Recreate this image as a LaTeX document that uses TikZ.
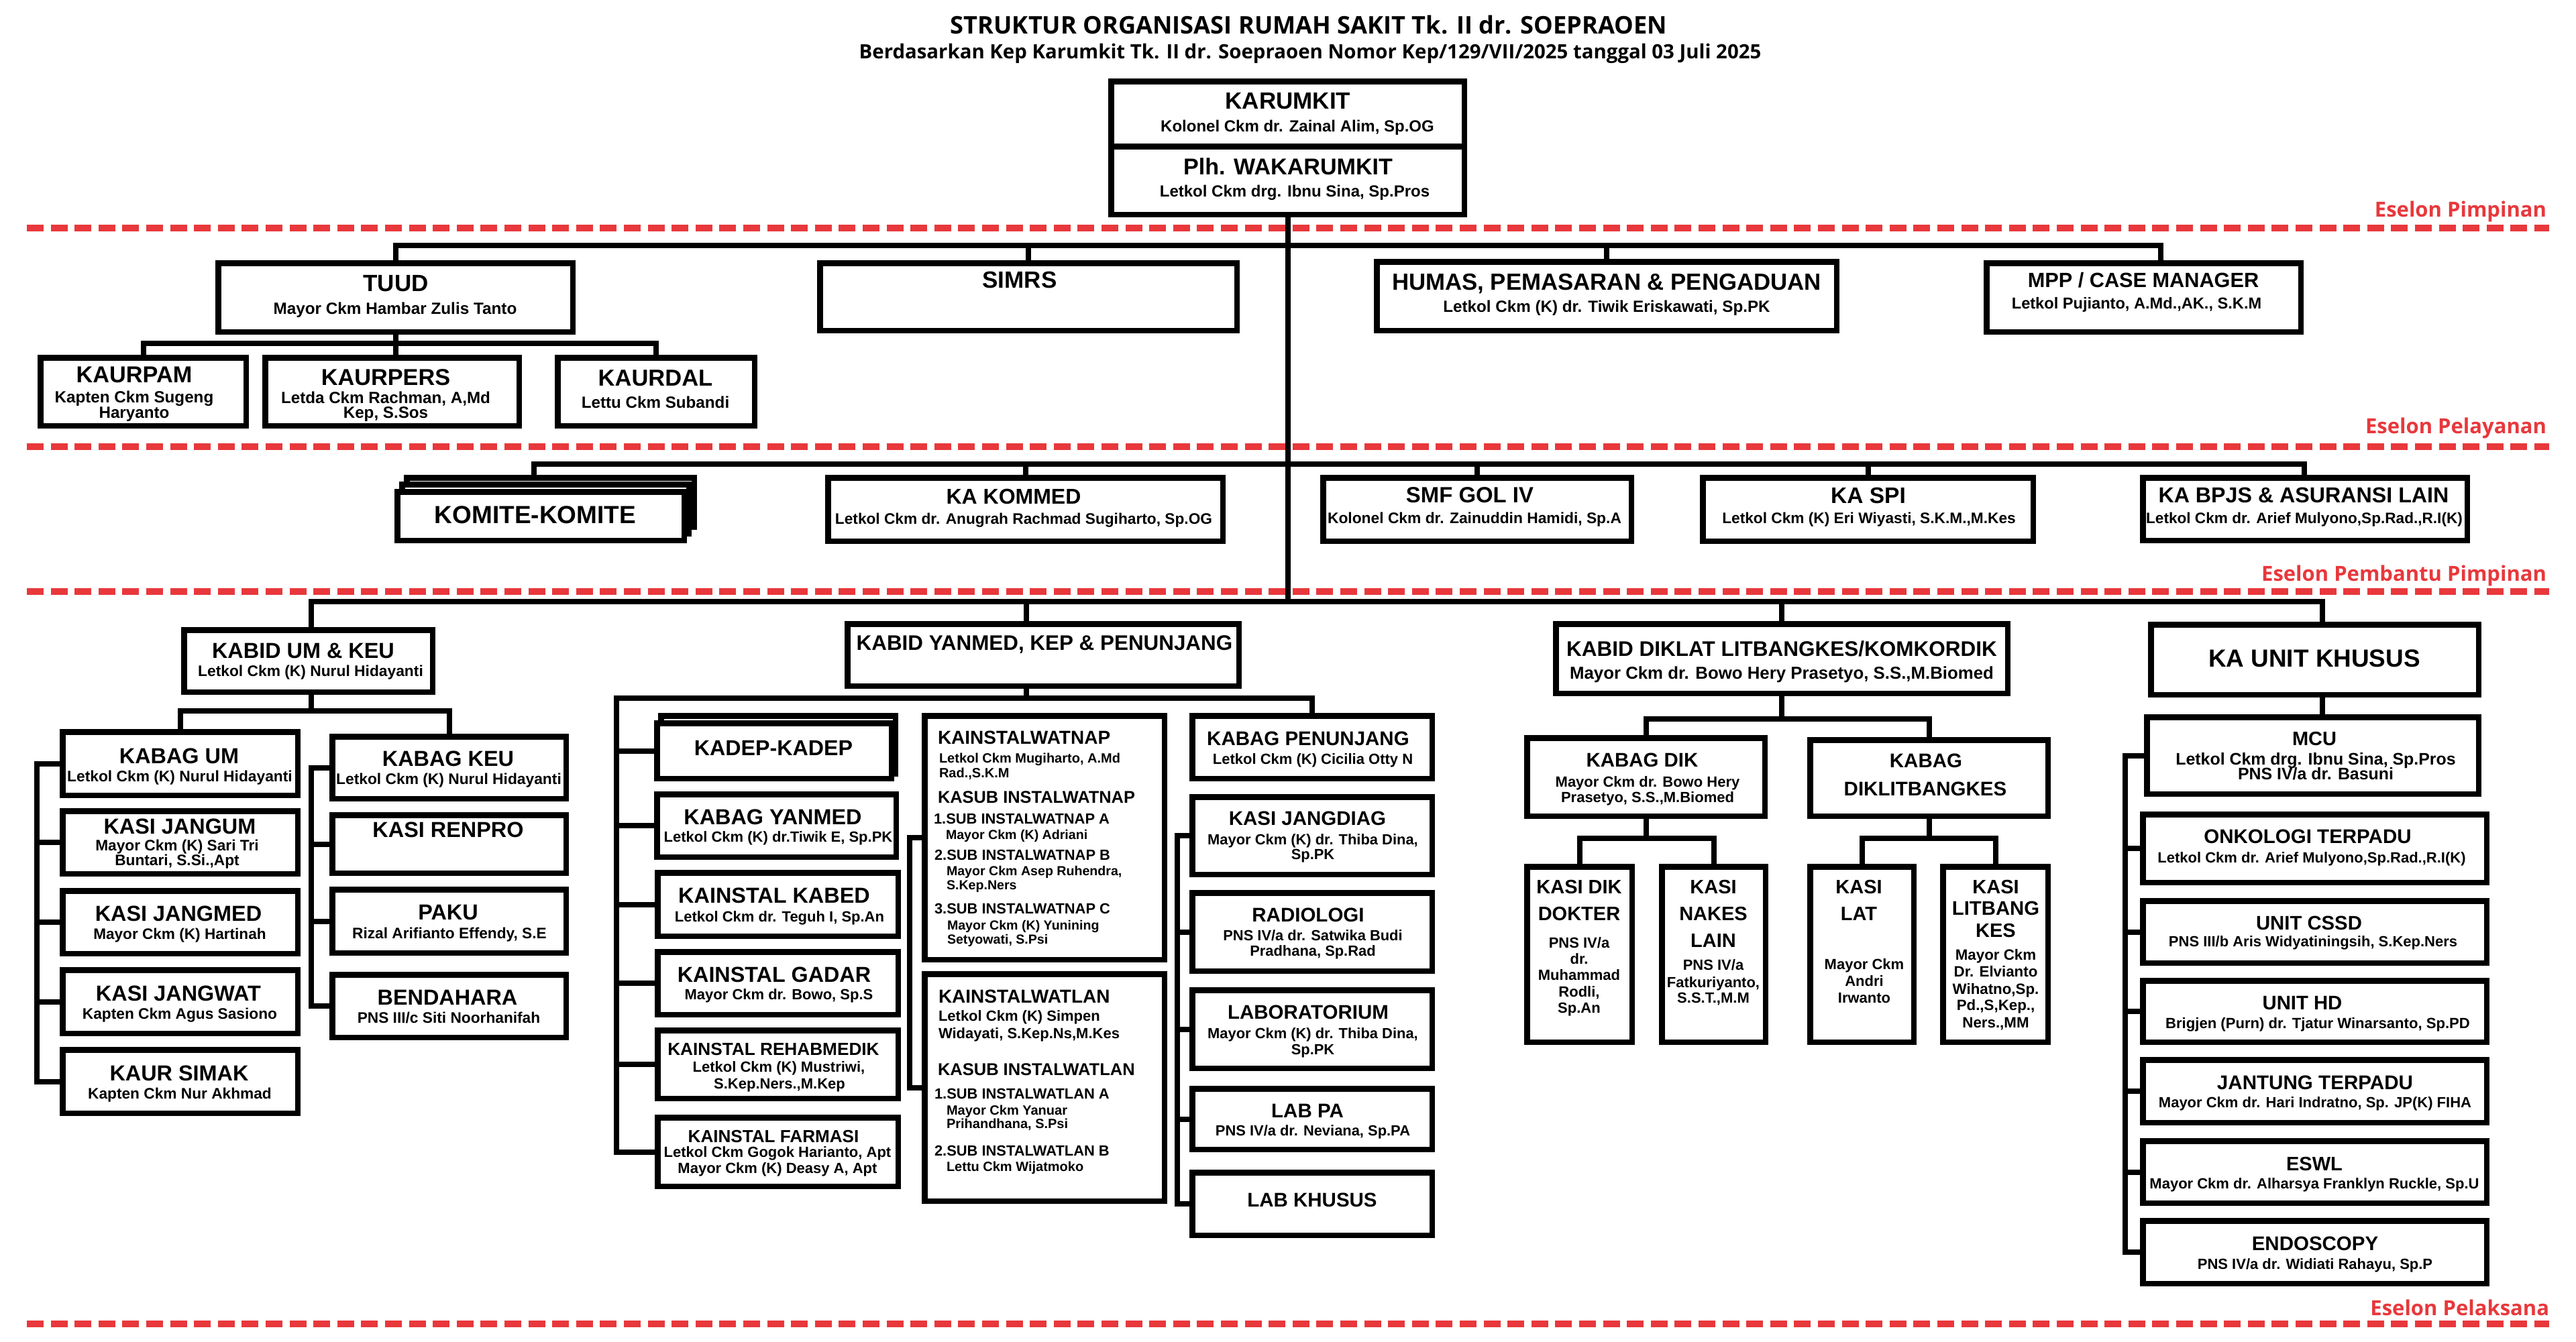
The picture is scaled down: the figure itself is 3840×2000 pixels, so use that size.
\documentclass[tikz,border=0pt]{standalone}
\usepackage{fontspec}
\setmainfont{Liberation Sans}
\newfontfamily\osans{Open Sans}
\definecolor{esred}{RGB}{232,56,60}
\newcounter{tx}
\newcommand\fz[1]{\fontsize{\fpeval{#1*0.28453}pt}{\fpeval{#1*0.34}pt}\selectfont\bfseries}
\newcommand\Tx[4]{\stepcounter{tx}\node[lbl,font=\fz{#1},text height={#1*0.0716mm}] (tx\arabic{tx}) at (#2,#3) {#4};}
\newcommand\Tl[4]{\stepcounter{tx}\node[lbl,anchor=west,font=\fz{#1},text height={#1*0.0716mm}] (tx\arabic{tx}) at (#2,#3) {#4};}
\newcommand\Bx[5]{\node[box,minimum width={(#4-#2-8.5)*0.1mm},minimum height={(#5-#3-8.5)*0.1mm}] (#1) at ({(#2+#4)/2},{(#3+#5)/2}) {};}
\begin{document}
\begin{tikzpicture}[x=0.1mm,y=-0.1mm,
  box/.style={draw=black,line width=0.85mm,fill=white,inner sep=0pt,outer sep=0pt},
  cn/.style={draw=black,line width=0.8mm,line join=miter,line cap=rect},
  lbl/.style={inner sep=0pt,outer sep=0pt,text depth=0pt,anchor=center},
  esl/.style={draw=esred,line width=1mm,dash pattern=on 2.5mm off 1.06mm},
  eslab/.style={font=\osans\bfseries\fontsize{8.82pt}{10pt}\selectfont,text=esred,anchor=east,inner sep=0pt,outer sep=0pt,text height=2.21mm,text depth=0pt}]
\fill[white] (0,0) rectangle (3840,2000);
\useasboundingbox (0,0) rectangle (3840,2000);

% title
\node[lbl,font=\osans\bfseries\fontsize{10.3pt}{12pt}\selectfont,text height=2.6mm] (title) at (1951,37) {STRUKTUR ORGANISASI RUMAH SAKIT Tk. II dr. SOEPRAOEN};
\node[lbl,font=\osans\bfseries\fontsize{8.36pt}{10pt}\selectfont,text height=2.1mm] (subtitle) at (1953,77) {Berdasarkan Kep Karumkit Tk. II dr. Soepraoen Nomor Kep/129/VII/2025 tanggal 03 Juli 2025};

% eselon lines
\draw[esl] (40,340) -- (3800,340);
\draw[esl] (40,666) -- (3800,666);
\draw[esl] (40,882) -- (3800,882);
\draw[esl] (40,1974) -- (3800,1974);
\node[eslab] (e1) at (3796,312) {Eselon Pimpinan};
\node[eslab] (e2) at (3796,635) {Eselon Pelayanan};
\node[eslab] (e3) at (3796,855) {Eselon Pembantu Pimpinan};
\node[eslab] (e4) at (3800,1950) {Eselon Pelaksana};

% boxes
\Bx{karumkit}{1652}{117}{2187}{223}
\Bx{waka}{1652}{214}{2187}{324}
\Bx{tuud}{321}{388}{858}{499}
\Bx{kaurpam}{56}{529}{371}{639}
\Bx{kaurpers}{391}{529}{778}{639}
\Bx{kaurdal}{827}{529}{1129}{639}
\Bx{simrs}{1218}{388}{1848}{497}
\Bx{humas}{2048}{386}{2742}{497}
\Bx{mpp}{2957}{388}{3434}{499}
\Bx{komB}{602}{708}{1039}{790}
\Bx{komM}{595}{718}{1031}{800}
\Bx{komF}{588}{729}{1024}{810}
\Bx{kommed}{1230}{708}{1827}{811}
\Bx{smf}{1968}{708}{2436}{811}
\Bx{spi}{2534}{708}{3035}{811}
\Bx{bpjs}{3190}{708}{3682}{810}
\Bx{kabidum}{270}{935}{649}{1036}
\Bx{kabagum}{89}{1087}{448}{1190}
\Bx{jangum}{89}{1205}{448}{1307}
\Bx{jangmed}{89}{1324}{448}{1426}
\Bx{jangwat}{89}{1442}{448}{1545}
\Bx{simak}{89}{1561}{448}{1664}
\Bx{kabagkeu}{491}{1094}{848}{1195}
\Bx{renpro}{491}{1211}{848}{1306}
\Bx{paku}{491}{1322}{848}{1425}
\Bx{bendahara}{491}{1449}{848}{1551}
\Bx{kabidyan}{1259}{926}{1851}{1027}
\Bx{kadepB}{981}{1063}{1339}{1158}
\Bx{kadepF}{975}{1074}{1333}{1165}
\Bx{kabagyan}{975}{1180}{1340}{1282}
\Bx{kabed}{976}{1297}{1343}{1400}
\Bx{gadar}{976}{1415}{1343}{1517}
\Bx{rehab}{976}{1532}{1343}{1642}
\Bx{farmasi}{976}{1662}{1343}{1773}
\Bx{watnap}{1374}{1063}{1740}{1435}
\Bx{watlan}{1374}{1448}{1740}{1795}
\Bx{penunjang}{1773}{1063}{2139}{1165}
\Bx{jangdiag}{1773}{1184}{2139}{1308}
\Bx{radiologi}{1773}{1327}{2139}{1452}
\Bx{lab}{1773}{1472}{2139}{1597}
\Bx{labpa}{1773}{1619}{2139}{1718}
\Bx{labkhusus}{1773}{1744}{2139}{1846}
\Bx{kabiddik}{2315}{926}{2997}{1038}
\Bx{kabagdik}{2272}{1096}{2635}{1221}
\Bx{kabaglit}{2694}{1099}{3057}{1221}
\Bx{kasidik}{2272}{1288}{2437}{1558}
\Bx{nakes}{2473}{1288}{2636}{1558}
\Bx{lat}{2694}{1288}{2857}{1558}
\Bx{litbang}{2892}{1288}{3057}{1558}
\Bx{kaunit}{3202}{927}{3699}{1040}
\Bx{mcu}{3196}{1065}{3699}{1188}
\Bx{onko}{3190}{1210}{3711}{1320}
\Bx{cssd}{3190}{1339}{3711}{1440}
\Bx{hd}{3190}{1458}{3711}{1558}
\Bx{jantung}{3190}{1576}{3711}{1678}
\Bx{eswl}{3190}{1697}{3711}{1798}
\Bx{endo}{3190}{1816}{3711}{1918}

% connector coordinates
\coordinate (m2) at (3221,366);
\coordinate (m3l) at (796,692);
\coordinate (m3r) at (3435,692);
\coordinate (m4l) at (464,897);
\coordinate (m4r) at (3462,897);
\coordinate (yv) at (1530,897);
\coordinate (tb) at (0,512);
\coordinate (ub) at (0,1060);
\coordinate (sl) at (55,0);
\coordinate (sr) at (464,0);
\coordinate (yb) at (0,1041);
\coordinate (ysl) at (919,0);
\coordinate (wx) at (1356,0);
\coordinate (px) at (1755,0);
\coordinate (db) at (0,1072);
\coordinate (db2) at (0,1250);
\coordinate (ux) at (3168,0);

% main trunk and bars
\draw[cn] (waka.south) -- (waka.south |- m4l);
\draw[cn] (tuud.north) |- (m2) -- (mpp.north -| m2);
\draw[cn] (simrs.north) -- (simrs.north |- m2);
\draw[cn] (humas.north) -- (humas.north |- m2);
\draw[cn] (komB.north -| m3l) -- (m3l) -- (m3r) -- (bpjs.north -| m3r);
\draw[cn] (kommed.north) -- (kommed.north |- m3l);
\draw[cn] (smf.north) -- (smf.north |- m3l);
\draw[cn] (spi.north) -- (spi.north |- m3l);
\draw[cn] (kabidum.north -| m4l) -- (m4l) -- (m4r) -- (kaunit.north -| m4r);
\draw[cn] (yv) -- (kabidyan.north -| yv);
\draw[cn] (kabiddik.north) -- (kabiddik.north |- m4l);

% TUUD
\draw[cn] (kaurpam.north) -- (kaurpam.north |- tb) -- (kaurdal.north |- tb) -- (kaurdal.north);
\draw[cn] (tuud.south) -- (tuud.south |- kaurpers.north);

% KABID UM
\draw[cn] (kabidum.south -| m4l) -- (m4l |- ub);
\draw[cn] (kabagum.north) -- (kabagum.north |- ub) -- (kabagkeu.north |- ub) -- (kabagkeu.north);
\draw[cn] (kabagum.west) -- (kabagum.west -| sl) -- (simak.west -| sl) -- (simak.west);
\draw[cn] (jangum.west) -- (jangum.west -| sl);
\draw[cn] (jangmed.west) -- (jangmed.west -| sl);
\draw[cn] (jangwat.west) -- (jangwat.west -| sl);
\draw[cn] (kabagkeu.west) -- (kabagkeu.west -| sr) -- (bendahara.west -| sr) -- (bendahara.west);
\draw[cn] (renpro.west) -- (renpro.west -| sr);
\draw[cn] (paku.west) -- (paku.west -| sr);

% YANMED
\draw[cn] (kabidyan.south -| yv) -- (yv |- yb);
\draw[cn] (farmasi.west) -- (farmasi.west -| ysl) -- (ysl |- yb) -- (penunjang.north |- yb) -- (penunjang.north);
\draw[cn] (kadepF.west) -- (kadepF.west -| ysl);
\draw[cn] (kabagyan.west) -- (kabagyan.west -| ysl);
\draw[cn] (kabed.west) -- (kabed.west -| ysl);
\draw[cn] (gadar.west) -- (gadar.west -| ysl);
\draw[cn] (rehab.west) -- (rehab.west -| ysl);
\draw[cn] (watnap.west) -- (watnap.west -| wx) -- (watlan.west -| wx) -- (watlan.west);
\draw[cn] (jangdiag.west) -- (jangdiag.west -| px) -- (labkhusus.west -| px) -- (labkhusus.west);
\draw[cn] (radiologi.west) -- (radiologi.west -| px);
\draw[cn] (lab.west) -- (lab.west -| px);
\draw[cn] (labpa.west) -- (labpa.west -| px);

% DIKLAT
\draw[cn] (kabiddik.south) -- (kabiddik.south |- db);
\draw[cn] (kabagdik.north) -- (kabagdik.north |- db) -- (kabaglit.north |- db) -- (kabaglit.north);
\draw[cn] (kabagdik.south) -- (kabagdik.south |- db2);
\draw[cn] (kasidik.north) -- (kasidik.north |- db2) -- (nakes.north |- db2) -- (nakes.north);
\draw[cn] (kabaglit.south) -- (kabaglit.south |- db2);
\draw[cn] (lat.north) -- (lat.north |- db2) -- (litbang.north |- db2) -- (litbang.north);

% UNIT KHUSUS
\draw[cn] (kaunit.south -| m4r) -- (mcu.north -| m4r);
\draw[cn] (mcu.west) -- (mcu.west -| ux) -- (endo.west -| ux) -- (endo.west);
\draw[cn] (onko.west) -- (onko.west -| ux);
\draw[cn] (cssd.west) -- (cssd.west -| ux);
\draw[cn] (hd.west) -- (hd.west -| ux);
\draw[cn] (jantung.west) -- (jantung.west -| ux);
\draw[cn] (eswl.west) -- (eswl.west -| ux);

% ---- texts ----
\Tx{35}{1920}{150}{KARUMKIT}
\Tx{24}{1934}{188}{Kolonel Ckm dr. Zainal Alim, Sp.OG}
\Tx{34.1}{1920}{248}{Plh. WAKARUMKIT}
\Tx{24}{1930}{285}{Letkol Ckm drg. Ibnu Sina, Sp.Pros}
\Tx{35}{590}{422}{TUUD}
\Tx{24.3}{589}{460}{Mayor Ckm Hambar Zulis Tanto}
\Tx{34.3}{200}{558}{KAURPAM}
\Tx{24.2}{200}{592}{Kapten Ckm Sugeng}
\Tx{24.2}{200}{615}{Haryanto}
\Tx{34.3}{575}{562}{KAURPERS}
\Tx{24.2}{575}{593}{Letda Ckm Rachman, A,Md}
\Tx{24.2}{575}{615}{Kep, S.Sos}
\Tx{34.5}{977}{563}{KAURDAL}
\Tx{24.2}{977}{600}{Lettu Ckm Subandi}
\Tx{35}{1520}{417}{SIMRS}
\Tx{34.8}{2395}{420}{HUMAS, PEMASARAN \& PENGADUAN}
\Tx{24.2}{2395}{457}{Letkol Ckm (K) dr. Tiwik Eriskawati, Sp.PK}
\Tx{30.7}{3195}{417}{MPP / CASE MANAGER}
\Tx{23.6}{3185}{452}{Letkol Pujianto, A.Md.,AK., S.K.M}

\Tx{37}{798}{767}{KOMITE-KOMITE}
\Tx{32}{1511}{740}{KA KOMMED}
\Tx{22.7}{1526}{773}{Letkol Ckm dr. Anugrah Rachmad Sugiharto, Sp.OG}
\Tx{32.9}{2191}{738}{SMF GOL IV}
\Tx{22.8}{2198}{772}{Kolonel Ckm dr. Zainuddin Hamidi, Sp.A}
\Tx{33.5}{2785}{738}{KA SPI}
\Tx{22.7}{2786}{772}{Letkol Ckm (K) Eri Wiyasti, S.K.M.,M.Kes}
\Tx{32.2}{3434}{738}{KA BPJS \& ASURANSI LAIN}
\Tx{22.6}{3435}{772}{Letkol Ckm dr. Arief Mulyono,Sp.Rad.,R.I(K)}

\Tx{32.4}{452}{970}{KABID UM \& KEU}
\Tx{22.8}{463}{1000}{Letkol Ckm (K) Nurul Hidayanti}
\Tx{32.4}{267}{1127}{KABAG UM}
\Tx{22.8}{268}{1157}{Letkol Ckm (K) Nurul Hidayanti}
\Tx{32.4}{268}{1232}{KASI JANGUM}
\Tx{22.7}{264}{1260}{Mayor Ckm (K) Sari Tri}
\Tx{22.7}{264}{1282}{Buntari, S.Si.,Apt}
\Tx{32.4}{266}{1362}{KASI JANGMED}
\Tx{22.6}{268}{1392}{Mayor Ckm (K) Hartinah}
\Tx{32.4}{266}{1481}{KASI JANGWAT}
\Tx{22.7}{268}{1511}{Kapten Ckm Agus Sasiono}
\Tx{32.4}{267}{1600}{KAUR SIMAK}
\Tx{22.7}{268}{1630}{Kapten Ckm Nur Akhmad}
\Tx{32.4}{668}{1131}{KABAG KEU}
\Tx{22.8}{669}{1161}{Letkol Ckm (K) Nurul Hidayanti}
\Tx{32.4}{668}{1237}{KASI RENPRO}
\Tx{32.4}{668}{1360}{PAKU}
\Tx{22.7}{670}{1391}{Rizal Arifianto Effendy, S.E}
\Tx{32.4}{667}{1487}{BENDAHARA}
\Tx{22.7}{669}{1517}{PNS III/c Siti Noorhanifah}

\Tx{31.4}{1557}{958}{KABID YANMED, KEP \& PENUNJANG}
\Tx{32.2}{1153}{1115}{KADEP-KADEP}
\Tx{32.4}{1152}{1218}{KABAG YANMED}
\Tx{22}{1160}{1248}{Letkol Ckm (K) dr.Tiwik E, Sp.PK}
\Tx{32.4}{1154}{1335}{KAINSTAL KABED}
\Tx{22}{1162}{1367}{Letkol Ckm dr. Teguh I, Sp.An}
\Tx{32.3}{1154}{1453}{KAINSTAL GADAR}
\Tx{22}{1161}{1483}{Mayor Ckm dr. Bowo, Sp.S}
\Tx{26.2}{1153}{1564}{KAINSTAL REHABMEDIK}
\Tx{22}{1161}{1591}{Letkol Ckm (K) Mustriwi,}
\Tx{22}{1162}{1616}{S.Kep.Ners.,M.Kep}
\Tx{26.1}{1153}{1694}{KAINSTAL FARMASI}
\Tx{22}{1159}{1718}{Letkol Ckm Gogok Harianto, Apt}
\Tx{22}{1159}{1742}{Mayor Ckm (K) Deasy A, Apt}

\Tl{28}{1398}{1099}{KAINSTALWATNAP}
\Tl{20}{1400}{1130}{Letkol Ckm Mugiharto, A.Md}
\Tl{20}{1400}{1152}{Rad.,S.K.M}
\Tl{25.4}{1398}{1188}{KASUB INSTALWATNAP}
\Tl{21.9}{1392}{1221}{1.SUB INSTALWATNAP A}
\Tl{19.6}{1410}{1244}{Mayor Ckm (K) Adriani}
\Tl{21.9}{1393}{1275}{2.SUB INSTALWATNAP B}
\Tl{19.6}{1411}{1298}{Mayor Ckm Asep Ruhendra,}
\Tl{19.6}{1411}{1319}{S.Kep.Ners}
\Tl{21.9}{1393}{1355}{3.SUB INSTALWATNAP C}
\Tl{19.6}{1412}{1379}{Mayor Ckm (K) Yunining}
\Tl{19.6}{1412}{1400}{Setyowati, S.Psi}
\Tl{28}{1399}{1485}{KAINSTALWATLAN}
\Tl{22}{1399}{1515}{Letkol Ckm (K) Simpen}
\Tl{22}{1399}{1541}{Widayati, S.Kep.Ns,M.Kes}
\Tl{25.5}{1398}{1594}{KASUB INSTALWATLAN}
\Tl{21.9}{1393}{1631}{1.SUB INSTALWATLAN A}
\Tl{20}{1411}{1655}{Mayor Ckm Yanuar}
\Tl{20}{1411}{1675}{Prihandhana, S.Psi}
\Tl{21.9}{1393}{1716}{2.SUB INSTALWATLAN B}
\Tl{20}{1411}{1739}{Lettu Ckm Wijatmoko}

\Tx{29.5}{1950}{1101}{KABAG PENUNJANG}
\Tx{22}{1957}{1132}{Letkol Ckm (K) Cicilia Otty N}
\Tx{29.5}{1949}{1220}{KASI JANGDIAG}
\Tx{21.9}{1957}{1252}{Mayor Ckm (K) dr. Thiba Dina,}
\Tx{21.9}{1957}{1274}{Sp.PK}
\Tx{29.5}{1950}{1364}{RADIOLOGI}
\Tx{21.9}{1957}{1395}{PNS IV/a dr. Satwika Budi}
\Tx{21.9}{1957}{1418}{Pradhana, Sp.Rad}
\Tx{29.5}{1950}{1509}{LABORATORIUM}
\Tx{21.9}{1957}{1541}{Mayor Ckm (K) dr. Thiba Dina,}
\Tx{21.9}{1957}{1565}{Sp.PK}
\Tx{29.5}{1949}{1656}{LAB PA}
\Tx{21.9}{1957}{1686}{PNS IV/a dr. Neviana, Sp.PA}
\Tx{29.5}{1956}{1789}{LAB KHUSUS}

\Tx{31.5}{2656}{967}{KABID DIKLAT LITBANGKES/KOMKORDIK}
\Tx{25.8}{2656}{1003}{Mayor Ckm dr. Bowo Hery Prasetyo, S.S.,M.Biomed}
\Tx{29.4}{2448}{1133}{KABAG DIK}
\Tx{22}{2456}{1166}{Mayor Ckm dr. Bowo Hery}
\Tx{22}{2456}{1189}{Prasetyo, S.S.,M.Biomed}
\Tx{29.5}{2871}{1134}{KABAG}
\Tx{29.5}{2870}{1176}{DIKLITBANGKES}
\Tx{29}{2354}{1322}{KASI DIK}
\Tx{29}{2354}{1362}{DOKTER}
\Tx{22}{2354}{1406}{PNS IV/a}
\Tx{22}{2354}{1430}{dr.}
\Tx{22}{2354}{1454}{Muhammad}
\Tx{22}{2354}{1479}{Rodli,}
\Tx{22}{2354}{1503}{Sp.An}
\Tx{29}{2554}{1322}{KASI}
\Tx{29}{2554}{1362}{NAKES}
\Tx{29}{2554}{1402}{LAIN}
\Tx{22}{2554}{1439}{PNS IV/a}
\Tx{22}{2554}{1465}{Fatkuriyanto,}
\Tx{22}{2554}{1488}{S.S.T.,M.M}
\Tx{29}{2771}{1322}{KASI}
\Tx{29}{2771}{1362}{LAT}
\Tx{22}{2779}{1438}{Mayor Ckm}
\Tx{22}{2779}{1463}{Andri}
\Tx{22}{2779}{1488}{Irwanto}
\Tx{29}{2975}{1322}{KASI}
\Tx{29.3}{2975}{1354}{LITBANG}
\Tx{29}{2975}{1387}{KES}
\Tx{22.3}{2975}{1423}{Mayor Ckm}
\Tx{22.3}{2975}{1448}{Dr. Elvianto}
\Tx{22.3}{2975}{1474}{Wihatno,Sp.}
\Tx{22.3}{2975}{1498}{Pd.,S,Kep.,}
\Tx{22.3}{2975}{1524}{Ners.,MM}

\Tx{36.9}{3450}{981}{KA UNIT KHUSUS}
\Tx{29}{3450}{1101}{MCU}
\Tx{24.9}{3452}{1132}{Letkol Ckm drg. Ibnu Sina, Sp.Pros}
\Tx{24.9}{3452}{1154}{PNS IV/a dr. Basuni}
\Tx{29.5}{3440}{1247}{ONKOLOGI TERPADU}
\Tx{22}{3446}{1279}{Letkol Ckm dr. Arief Mulyono,Sp.Rad.,R.I(K)}
\Tx{29.3}{3442}{1376}{UNIT CSSD}
\Tx{22}{3448}{1404}{PNS III/b Aris Widyatiningsih, S.Kep.Ners}
\Tx{29.3}{3432}{1495}{UNIT HD}
\Tx{22.1}{3455}{1526}{Brigjen (Purn) dr. Tjatur Winarsanto, Sp.PD}
\Tx{29.6}{3451}{1614}{JANTUNG TERPADU}
\Tx{22}{3451}{1644}{Mayor Ckm dr. Hari Indratno, Sp. JP(K) FIHA}
\Tx{29}{3450}{1735}{ESWL}
\Tx{22}{3450}{1765}{Mayor Ckm dr. Alharsya Franklyn Ruckle, Sp.U}
\Tx{29.5}{3451}{1854}{ENDOSCOPY}
\Tx{22}{3451}{1885}{PNS IV/a dr. Widiati Rahayu, Sp.P}
\end{tikzpicture}
\end{document}
